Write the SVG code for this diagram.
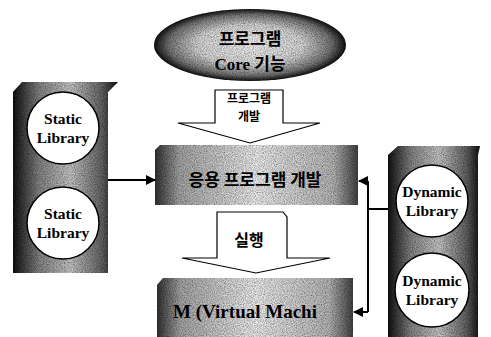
<svg xmlns="http://www.w3.org/2000/svg" width="491" height="337" viewBox="0 0 491 337">
<style>
.ko{font-family:"Noto Sans CJK KR","Liberation Sans",sans-serif;font-weight:bold;fill:#000;text-anchor:middle}
.en{font-family:"Liberation Serif",serif;font-weight:bold;fill:#000;text-anchor:middle}
.edge{stroke:#000;stroke-width:2;fill:none}
.circ{fill:#fff;stroke:#000;stroke-width:1.5}
.arrow{fill:#fff;stroke:#000;stroke-width:1.2}
</style>
<defs>
<filter id="noise" x="0" y="0" width="1" height="1">
<feTurbulence type="fractalNoise" baseFrequency="0.9" numOctaves="2" seed="3" result="t"/>
<feColorMatrix in="t" type="matrix" values="0 0 0 0 0  0 0 0 0 0  0 0 0 0 0  0 0 0 -1.2 0.9" result="n"/>
<feComposite in="n" in2="SourceGraphic" operator="in" result="m"/>
<feBlend in="SourceGraphic" in2="m" mode="multiply"/>
</filter>
<linearGradient id="boxgrad" x1="0" y1="0" x2="1" y2="0">
<stop offset="0" stop-color="#333"/>
<stop offset="0.12" stop-color="#aaa"/>
<stop offset="0.5" stop-color="#f4f4f4"/>
<stop offset="0.88" stop-color="#bbb"/>
<stop offset="1" stop-color="#444"/>
</linearGradient>
<linearGradient id="pangrad" x1="0" y1="0" x2="1" y2="0">
<stop offset="0" stop-color="#111"/>
<stop offset="0.25" stop-color="#888"/>
<stop offset="0.55" stop-color="#ccc"/>
<stop offset="0.85" stop-color="#666"/>
<stop offset="1" stop-color="#111"/>
</linearGradient>
<radialGradient id="ellgrad" cx="0.5" cy="0.5" r="0.5">
<stop offset="0" stop-color="#fafafa"/>
<stop offset="0.55" stop-color="#ddd"/>
<stop offset="0.85" stop-color="#777"/>
<stop offset="1" stop-color="#111"/>
</radialGradient>
<marker id="ah" viewBox="0 0 10 10" refX="9" refY="5" markerWidth="5" markerHeight="5" orient="auto">
<path d="M0,0 L10,5 L0,10 z" fill="#000"/>
</marker>
</defs>

<g id="core">
<ellipse cx="250" cy="45" rx="96" ry="36" fill="url(#ellgrad)" filter="url(#noise)"/>
<text class="ko" x="250" y="45" font-size="17">프로그램</text>
<text class="en" x="250" y="70" font-size="17">Core <tspan font-family="Noto Sans CJK KR, sans-serif">기능</tspan></text>
</g>

<g id="arrow-dev">
<path class="arrow" d="M215,90 L283,90 L283,123 L320,123 L250,143 L178,123 L215,123 Z"/>
<text class="ko" x="249" y="103" font-size="12">프로그램</text>
<text class="ko" x="249" y="121" font-size="12">개발</text>
</g>

<g id="app">
<path d="M155,150 L160,145 L358,145 L358,205 L155,205 Z" fill="url(#boxgrad)" filter="url(#noise)"/>
<text class="ko" x="255" y="186" font-size="17">응용 프로그램 개발</text>
</g>

<g id="arrow-run">
<path class="arrow" d="M217,212 L283,212 L287,217 L287,258 L330,258 L256,273 L182,258 L217,258 Z"/>
<text class="ko" x="249" y="246" font-size="16">실행</text>
</g>

<g id="vm">
<path d="M157,285 L163,278 L353,278 L353,337 L157,337 Z" fill="url(#boxgrad)" filter="url(#noise)"/>
<text class="en" x="245" y="318" font-size="19">M (Virtual Machi</text>
</g>

<g id="static">
<path d="M13,92 L22,82 L118,82 L108,92 L108,273 L13,273 Z" fill="url(#pangrad)" filter="url(#noise)"/>
<circle class="circ" cx="63" cy="128" r="36"/>
<text class="en" x="63" y="124" font-size="15.5">Static</text>
<text class="en" x="63" y="143" font-size="15.5">Library</text>
<circle class="circ" cx="63" cy="223" r="36"/>
<text class="en" x="63" y="219" font-size="15.5">Static</text>
<text class="en" x="63" y="238" font-size="15.5">Library</text>
</g>

<g id="dynamic">
<path d="M388,155 L398,146 L480,146 L478,155 L478,337 L388,337 Z" fill="url(#pangrad)" filter="url(#noise)"/>
<circle class="circ" cx="432" cy="201" r="36"/>
<text class="en" x="432" y="197" font-size="15.5">Dynamic</text>
<text class="en" x="432" y="216" font-size="15.5">Library</text>
<circle class="circ" cx="432" cy="290" r="37"/>
<text class="en" x="432" y="286" font-size="15.5">Dynamic</text>
<text class="en" x="432" y="305" font-size="15.5">Library</text>
</g>

<g id="connectors">
<path class="edge" d="M108,180 L155,180" marker-end="url(#ah)"/>
<path class="edge" d="M388,209 L368,209"/>
<path class="edge" d="M368,181 L368,312"/>
<path class="edge" d="M368,181 L359,181" marker-end="url(#ah)"/>
<path class="edge" d="M368,312 L354,312" marker-end="url(#ah)"/>
</g>
</svg>
